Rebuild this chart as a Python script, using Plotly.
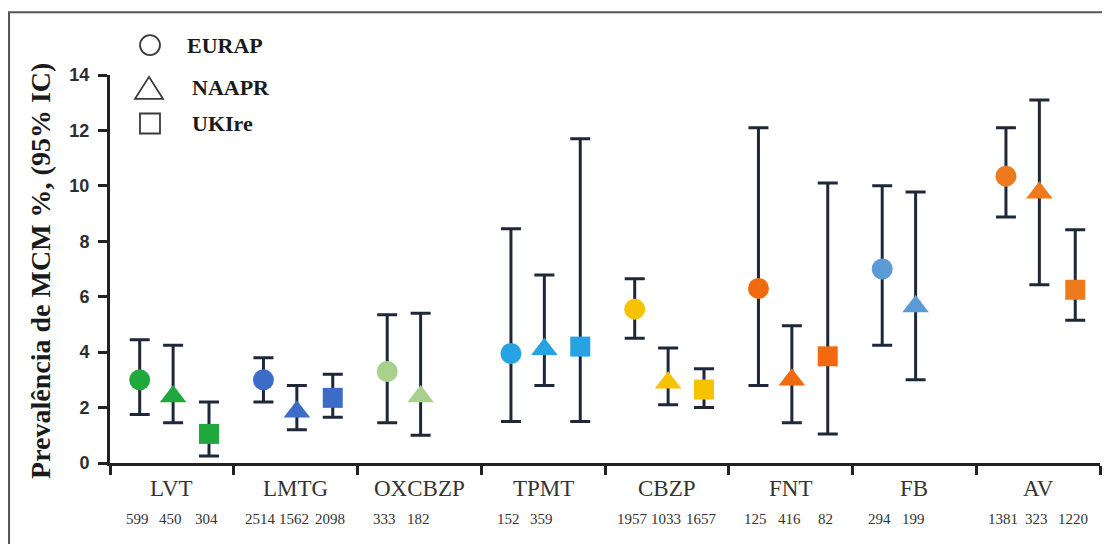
import plotly.graph_objects as go

categories = ["LVT", "LMTG", "OXCBZP", "TPMT", "CBZP", "FNT", "FB", "AV"]
series_names = ["EURAP", "NAAPR", "UKIre"]

eurap = [3.0, 3.0, 3.3, 3.95, 5.55, 6.3, 7.0, 10.35]
eurap_hi = [4.45, 3.8, 5.35, 8.45, 6.65, 12.1, 10.0, 12.1]
eurap_lo = [1.75, 2.2, 1.45, 1.5, 4.5, 2.8, 4.25, 8.88]
eurap_n = ["599", "2514", "333", "152", "1957", "125", "294", "1381"]

naapr = [2.4, 1.85, 2.4, 4.1, 2.9, 3.0, 5.65, 9.75]
naapr_hi = [4.25, 2.8, 5.4, 6.78, 4.15, 4.95, 9.78, 13.1]
naapr_lo = [1.45, 1.2, 1.0, 2.8, 2.1, 1.45, 3.0, 6.43]
naapr_n = ["450", "1562", "182", "359", "1033", "416", "199", "323"]

ukire = [1.05, 2.35, None, 4.2, 2.65, 3.85, None, 6.25]
ukire_hi = [2.2, 3.2, None, 11.7, 3.4, 10.1, None, 8.42]
ukire_lo = [0.25, 1.65, None, 1.5, 2.0, 1.05, None, 5.15]
ukire_n = ["304", "2098", "", "", "1657", "82", "", "1220"]

cat_colors = ["#1fa83c", "#3b6cc6", "#a9d18e", "#25a3e2", "#f7c200", "#f26a10", "#5b9bd5", "#ef7a1e"]

offsets = [-0.26, 0.01, 0.3]
symbols = ["circle", "triangle-up", "square"]
sizes = [21, 23, 20]
err_color = "#1e2838"
serif = "Liberation Serif"

fig = go.Figure()

data = [(eurap, eurap_hi, eurap_lo, eurap_n),
        (naapr, naapr_hi, naapr_lo, naapr_n),
        (ukire, ukire_hi, ukire_lo, ukire_n)]

for k, (vals, hi, lo, ns) in enumerate(data):
    xs, ys, up, dn, cols = [], [], [], [], []
    for i, v in enumerate(vals):
        if v is None:
            continue
        xs.append(i + offsets[k])
        ys.append(v)
        up.append(hi[i] - v)
        dn.append(v - lo[i])
        cols.append(cat_colors[i])
    fig.add_trace(go.Scatter(
        x=xs, y=ys, mode="markers", name=series_names[k], showlegend=False,
        marker=dict(symbol=symbols[k], size=sizes[k], color=cols, line=dict(width=0)),
        error_y=dict(type="data", symmetric=False, array=up, arrayminus=dn,
                     color=err_color, thickness=3, width=10),
        cliponaxis=False,
    ))

annotations = []
shapes = []
# category labels
for i, c in enumerate(categories):
    annotations.append(dict(x=i, y=0, xref="x", yref="paper", text=c, showarrow=False,
                            yanchor="middle", yshift=-25,
                            font=dict(family=serif, size=23, color="#333333")))
# n labels
for k, (vals, hi, lo, ns) in enumerate(data):
    for i, n in enumerate(ns):
        if n:
            annotations.append(dict(x=i + offsets[k] - 0.02, y=0, xref="x", yref="paper", text=n,
                                    showarrow=False, yanchor="middle", yshift=-56,
                                    font=dict(family=serif, size=15, color="#333333")))
annotations.append(dict(x=-0.66, y=0, xref="x", yref="paper", text="n =", showarrow=False,
                        yanchor="middle", yshift=-56,
                        font=dict(family=serif, size=14, color="#333333")))
# y title
annotations.append(dict(x=-0.0697, y=0.495, xref="paper", yref="paper",
                        text="Prevalência de MCM %, (95% IC)", showarrow=False, textangle=-90,
                        xanchor="center", yanchor="middle",
                        font=dict(family=serif, size=28, color="#1a1a1a", weight="bold")))

# legend key (drawn with shapes + text)
leg_x = 0.0404
leg_rows = [(1.077, "EURAP", 0.075), (0.967, "NAAPR", 0.08), (0.875, "UKIre", 0.08)]
lc = "#3a3a3a"
shapes.append(dict(type="circle", xref="paper", yref="paper", xsizemode="pixel", ysizemode="pixel",
                   xanchor=leg_x, yanchor=leg_rows[0][0], x0=-10, x1=10, y0=-10, y1=10,
                   line=dict(color=lc, width=1.8)))
shapes.append(dict(type="path", xref="paper", yref="paper", xsizemode="pixel", ysizemode="pixel",
                   xanchor=leg_x - 0.001, yanchor=leg_rows[1][0],
                   path="M-14,-11 L14,-11 L0,11 Z", line=dict(color=lc, width=1.8)))
shapes.append(dict(type="rect", xref="paper", yref="paper", xsizemode="pixel", ysizemode="pixel",
                   xanchor=leg_x, yanchor=leg_rows[2][0], x0=-10, x1=10, y0=-10, y1=10,
                   line=dict(color=lc, width=1.8)))
for y, txt, dx in leg_rows:
    annotations.append(dict(x=leg_x + dx - 0.04, y=y, xref="paper", yref="paper", text=txt,
                            showarrow=False, xanchor="left", yanchor="middle",
                            font=dict(family=serif, size=22, color="#1a1a1a", weight="bold")))

# outer frame
shapes.append(dict(type="rect", xref="paper", yref="paper", x0=-0.102, x1=1.007, y0=-0.3, y1=1.162,
                   line=dict(color="#555555", width=2), layer="below"))

# The page body adds an 8px offset, so the figure is sized to fill the rest of the window.
fig.update_layout(
    width=1102, height=536,
    margin=dict(l=102, r=10, t=67, b=81, autoexpand=False),
    paper_bgcolor="white", plot_bgcolor="white",
    annotations=annotations,
    shapes=shapes,
    showlegend=False,
    xaxis=dict(range=[-0.5, 7.5], showgrid=False, zeroline=False, automargin=False,
               showline=True, linecolor="#222222", linewidth=3,
               tickvals=[-0.5 + i for i in range(9)], ticktext=[""] * 9,
               ticks="outside", ticklen=9, tickwidth=3, tickcolor="#222222"),
    yaxis=dict(range=[0, 14], showgrid=False, zeroline=False, automargin=False,
               showline=True, linecolor="#222222", linewidth=3,
               tickvals=[0, 2, 4, 6, 8, 10, 12, 14],
               ticks="outside", ticklen=9, tickwidth=3, tickcolor="#222222",
               ticklabelstandoff=5,
               tickfont=dict(family="Liberation Sans", size=18, color="#2e2e2e", weight="bold")),
)

fig.write_html("out.html")
